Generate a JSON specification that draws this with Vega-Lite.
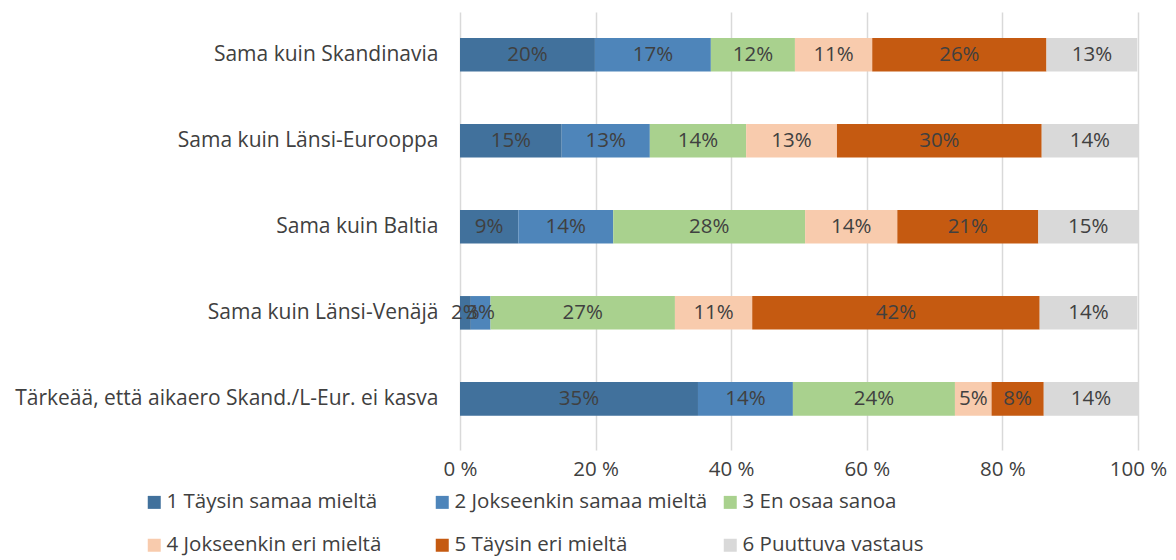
{
  "$schema": "https://vega.github.io/schema/vega-lite/v6.json",
  "width": 678,
  "height": 438,
  "autosize": {"type": "none"},
  "padding": {"left": 460, "top": 12, "right": 38, "bottom": 110},
  "background": "white",
  "config": {
    "view": {"stroke": null},
    "font": "Open Sans",
    "text": {"font": "Open Sans"}
  },
  "data": {
    "values": [
      {"q": "Sama kuin Skandinavia", "i": 1, "k": "1 Täysin samaa mieltä", "v": 0.199},
      {"q": "Sama kuin Skandinavia", "i": 2, "k": "2 Jokseenkin samaa mieltä", "v": 0.171},
      {"q": "Sama kuin Skandinavia", "i": 3, "k": "3 En osaa sanoa", "v": 0.124},
      {"q": "Sama kuin Skandinavia", "i": 4, "k": "4 Jokseenkin eri mieltä", "v": 0.114},
      {"q": "Sama kuin Skandinavia", "i": 5, "k": "5 Täysin eri mieltä", "v": 0.257},
      {"q": "Sama kuin Skandinavia", "i": 6, "k": "6 Puuttuva vastaus", "v": 0.134},
      {"q": "Sama kuin Länsi-Eurooppa", "i": 1, "k": "1 Täysin samaa mieltä", "v": 0.150},
      {"q": "Sama kuin Länsi-Eurooppa", "i": 2, "k": "2 Jokseenkin samaa mieltä", "v": 0.130},
      {"q": "Sama kuin Länsi-Eurooppa", "i": 3, "k": "3 En osaa sanoa", "v": 0.142},
      {"q": "Sama kuin Länsi-Eurooppa", "i": 4, "k": "4 Jokseenkin eri mieltä", "v": 0.134},
      {"q": "Sama kuin Länsi-Eurooppa", "i": 5, "k": "5 Täysin eri mieltä", "v": 0.302},
      {"q": "Sama kuin Länsi-Eurooppa", "i": 6, "k": "6 Puuttuva vastaus", "v": 0.142},
      {"q": "Sama kuin Baltia", "i": 1, "k": "1 Täysin samaa mieltä", "v": 0.086},
      {"q": "Sama kuin Baltia", "i": 2, "k": "2 Jokseenkin samaa mieltä", "v": 0.140},
      {"q": "Sama kuin Baltia", "i": 3, "k": "3 En osaa sanoa", "v": 0.283},
      {"q": "Sama kuin Baltia", "i": 4, "k": "4 Jokseenkin eri mieltä", "v": 0.136},
      {"q": "Sama kuin Baltia", "i": 5, "k": "5 Täysin eri mieltä", "v": 0.208},
      {"q": "Sama kuin Baltia", "i": 6, "k": "6 Puuttuva vastaus", "v": 0.147},
      {"q": "Sama kuin Länsi-Venäjä", "i": 1, "k": "1 Täysin samaa mieltä", "v": 0.016},
      {"q": "Sama kuin Länsi-Venäjä", "i": 2, "k": "2 Jokseenkin samaa mieltä", "v": 0.029},
      {"q": "Sama kuin Länsi-Venäjä", "i": 3, "k": "3 En osaa sanoa", "v": 0.272},
      {"q": "Sama kuin Länsi-Venäjä", "i": 4, "k": "4 Jokseenkin eri mieltä", "v": 0.114},
      {"q": "Sama kuin Länsi-Venäjä", "i": 5, "k": "5 Täysin eri mieltä", "v": 0.424},
      {"q": "Sama kuin Länsi-Venäjä", "i": 6, "k": "6 Puuttuva vastaus", "v": 0.144},
      {"q": "Tärkeää, että aikaero Skand./L-Eur. ei kasva", "i": 1, "k": "1 Täysin samaa mieltä", "v": 0.351},
      {"q": "Tärkeää, että aikaero Skand./L-Eur. ei kasva", "i": 2, "k": "2 Jokseenkin samaa mieltä", "v": 0.140},
      {"q": "Tärkeää, että aikaero Skand./L-Eur. ei kasva", "i": 3, "k": "3 En osaa sanoa", "v": 0.239},
      {"q": "Tärkeää, että aikaero Skand./L-Eur. ei kasva", "i": 4, "k": "4 Jokseenkin eri mieltä", "v": 0.054},
      {"q": "Tärkeää, että aikaero Skand./L-Eur. ei kasva", "i": 5, "k": "5 Täysin eri mieltä", "v": 0.077},
      {"q": "Tärkeää, että aikaero Skand./L-Eur. ei kasva", "i": 6, "k": "6 Puuttuva vastaus", "v": 0.139}
    ]
  },
  "transform": [
    {"stack": "v", "groupby": ["q"], "sort": [{"field": "i", "order": "ascending"}], "as": ["v0", "v1"]},
    {"calculate": "(datum.v0 + datum.v1) / 2", "as": "mid"}
  ],
  "encoding": {
    "y": {
      "field": "q",
      "type": "nominal",
      "sort": null,
      "scale": {"paddingInner": 0.61, "paddingOuter": 0.35, "align": 0.43},
      "axis": {
        "title": null,
        "ticks": false,
        "domain": false,
        "labelPadding": 22,
        "labelFontSize": 21,
        "labelColor": "#404040",
        "labelLimit": 500,
        "labelFont": "Open Sans"
      }
    }
  },
  "layer": [
    {
      "mark": {"type": "bar"},
      "encoding": {
        "x": {
          "field": "v0",
          "type": "quantitative",
          "scale": {"domain": [0, 1], "nice": false},
          "axis": {
            "title": null,
            "values": [0, 0.2, 0.4, 0.6, 0.8, 1],
            "labelExpr": "format(datum.value * 100, 'd') + ' %'",
            "labelFlush": false,
            "grid": true,
            "gridColor": "#D9D9D9",
            "gridWidth": 1.5,
            "domain": false,
            "ticks": false,
            "labelPadding": 9,
            "labelFontSize": 20.5,
            "labelColor": "#404040",
            "labelFont": "Open Sans"
          }
        },
        "x2": {"field": "v1"},
        "color": {
          "field": "k",
          "type": "nominal",
          "scale": {
            "domain": ["1 Täysin samaa mieltä", "2 Jokseenkin samaa mieltä", "3 En osaa sanoa", "4 Jokseenkin eri mieltä", "5 Täysin eri mieltä", "6 Puuttuva vastaus"],
            "range": ["#41719C", "#4E85BA", "#A9D18E", "#F8CBAD", "#C55A11", "#D9D9D9"]
          },
          "legend": {
            "title": null,
            "orient": "none",
            "legendX": -316,
            "legendY": 480,
            "direction": "horizontal",
            "columns": 3,
            "gridAlign": "all",
            "columnPadding": 12,
            "rowPadding": 22,
            "symbolType": "square",
            "symbolSize": 169,
            "symbolStrokeWidth": 0,
            "labelFontSize": 20.5,
            "labelColor": "#404040",
            "labelOffset": 2,
            "labelLimit": 400,
            "labelFont": "Open Sans"
          }
        }
      }
    },
    {
      "mark": {"type": "text", "fontSize": 20.5, "color": "#404040", "align": "center", "baseline": "middle"},
      "encoding": {
        "x": {"field": "mid", "type": "quantitative"},
        "text": {"field": "v", "type": "quantitative", "format": ".0%"}
      }
    }
  ]
}
